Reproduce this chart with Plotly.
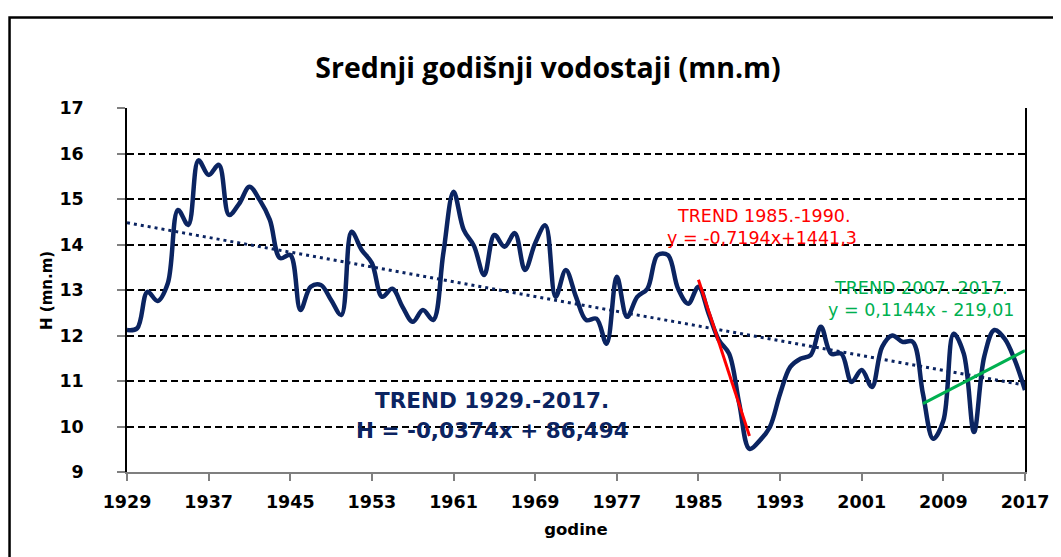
import numpy as np
import plotly.graph_objects as go

years = list(range(1929, 2018))
levels = [
    12.12, 12.16, 12.96, 12.76, 13.15, 14.76, 14.43, 15.85, 15.53, 15.75,  # 1929-1938
    14.65, 14.90, 15.27, 14.98, 14.54, 13.70, 13.77, 12.56, 13.07, 13.11,  # 1939-1948
    12.78, 12.45, 14.28, 13.88, 13.59, 12.85, 13.03, 12.63, 12.30, 12.56,  # 1949-1958
    12.34, 13.81, 15.16, 14.32, 13.97, 13.33, 14.21, 13.95, 14.25, 13.44,  # 1959-1968
    14.03, 14.42, 12.85, 13.44, 12.85, 12.34, 12.37, 11.82, 13.29, 12.41,  # 1969-1978
    12.85, 13.03, 13.77, 13.77, 13.03, 12.70, 13.07, 12.48, 11.90, 11.60,  # 1979-1988
    10.50, 9.51, 9.69, 9.99, 10.72, 11.31, 11.49, 11.57, 12.19, 11.60,    # 1989-1998
    11.60, 10.98, 11.24, 10.87, 11.75, 12.00, 11.86, 11.86, 10.72, 9.73,  # 1999-2008
    10.13, 12.04, 11.60, 9.88, 11.53, 12.12, 11.93, 11.46, 10.80,         # 2009-2017
]

x_ticks = list(range(1929, 2018, 8))
y_ticks = list(range(9, 18))

trend_periods = [(1929, 2017), (1985, 1990), (2007, 2017)]
trend_labels = [
    ("TREND 1929.-2017.", "H = -0,0374x + 86,494"),
    ("TREND 1985.-1990.", "y = -0,7194x+1441,3"),
    ("TREND 2007.-2017.", "y = 0,1144x - 219,01"),
]

NAVY = "#0b2461"
RED = "#ff0000"
GREEN = "#00b050"

yrs = np.array(years)
lv = np.array(levels)


def trend(a, b):
    m = (yrs >= a) & (yrs <= b)
    k, c = np.polyfit(yrs[m], lv[m], 1)
    return [a, b], [k * a + c, k * b + c]


fig = go.Figure()
fig.add_trace(go.Scatter(x=years, y=levels, mode="lines",
                         line=dict(color=NAVY, width=4.5, shape="spline", smoothing=1.0),
                         hoverinfo="x+y"))

tx, ty = trend(*trend_periods[0])
fig.add_trace(go.Scatter(x=tx, y=ty, mode="lines",
                         line=dict(color=NAVY, width=3, dash="3px,4px")))
tx, ty = trend(*trend_periods[1])
fig.add_trace(go.Scatter(x=tx, y=ty, mode="lines", line=dict(color=RED, width=3)))
tx, ty = trend(*trend_periods[2])
fig.add_trace(go.Scatter(x=tx, y=ty, mode="lines", line=dict(color=GREEN, width=3)))

FONT = "DejaVu Sans"
ann = []
ann.append(dict(x=1964.8, y=10.58, text="<b>" + trend_labels[0][0] + "</b>",
                font=dict(color=NAVY, size=21.5, family=FONT)))
ann.append(dict(x=1964.8, y=9.92, text="<b>" + trend_labels[0][1] + "</b>",
                font=dict(color=NAVY, size=21.5, family=FONT)))
ann.append(dict(x=1991.4, y=14.63, text=trend_labels[1][0],
                font=dict(color=RED, size=17.5, family=FONT)))
ann.append(dict(x=1991.2, y=14.14, text=trend_labels[1][1],
                font=dict(color=RED, size=17.5, family=FONT)))
ann.append(dict(x=2006.8, y=13.04, text=trend_labels[2][0],
                font=dict(color=GREEN, size=17.5, family=FONT)))
ann.append(dict(x=2006.8, y=12.56, text=trend_labels[2][1],
                font=dict(color=GREEN, size=17.5, family=FONT)))
for a in ann:
    a.update(xref="x", yref="y", showarrow=False, xanchor="center", yanchor="middle")

ann.append(dict(xref="paper", yref="paper", x=-0.0891, y=0.5, text="<b>H (mn.m)</b>",
                textangle=-90, showarrow=False, font=dict(size=15, family=FONT, color="black"),
                xanchor="center", yanchor="middle"))

# page body adds an 8px margin; figure is sized so the plot lands where the reference has it
fig.update_layout(
    width=1053, height=549,
    margin=dict(l=119, r=36, t=100, b=85),
    paper_bgcolor="white", plot_bgcolor="white",
    showlegend=False,
    title=dict(text="<b>Srednji godišnji vodostaji (mn.m)</b>", x=540 / 1053, y=1 - 60 / 549,
               xanchor="center", yanchor="middle", xref="container", yref="container",
               font=dict(size=28.5, family="Open Sans", color="black")),
    annotations=ann,
    shapes=[dict(type="rect", xref="paper", yref="paper", x0=-0.1308, x1=1.2, y0=-0.5, y1=1.2486,
                 line=dict(color="black", width=2.5), layer="below")],
)

fig.update_xaxes(range=[1929, 2017], tickvals=x_ticks, ticktext=[f"<b>{v}</b>" for v in x_ticks],
                 showgrid=False, zeroline=False, showline=True, linecolor="#7f7f7f", linewidth=1.5,
                 mirror=False, ticks="outside", ticklen=7, tickcolor="#7f7f7f", tickwidth=1.5,
                 ticklabelstandoff=6,
                 tickfont=dict(size=17.5, family=FONT, color="black"),
                 title=dict(text="<b>godine</b>", font=dict(size=16.5, family=FONT, color="black"),
                            standoff=13))
fig.update_yaxes(range=[9, 17], tickvals=y_ticks, ticktext=[f"<b>{v}</b>" for v in y_ticks],
                 showgrid=True, gridcolor="black", gridwidth=1.6, griddash="7px,4px",
                 zeroline=False, showline=True, linecolor="black", linewidth=1.5,
                 mirror=True, ticks="outside", ticklen=8, tickcolor="#7f7f7f", tickwidth=1.5,
                 ticklabelstandoff=30,
                 tickfont=dict(size=17.5, family=FONT, color="black"))

fig.write_html("out.html")
